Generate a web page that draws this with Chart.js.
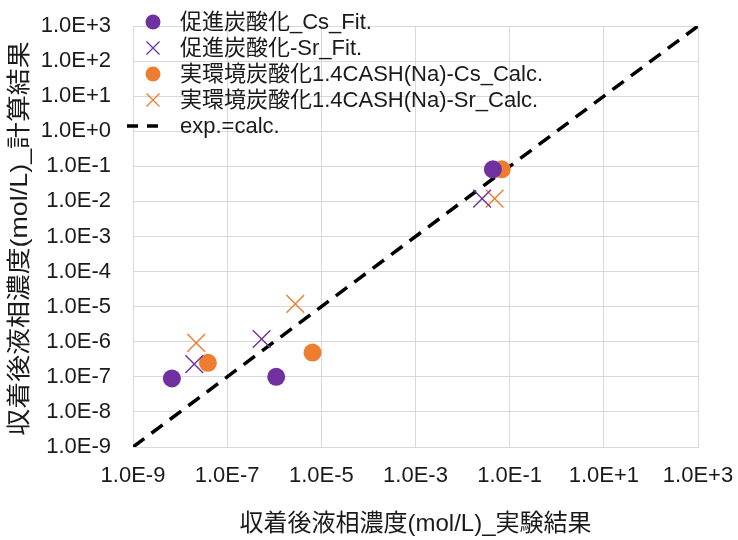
<!DOCTYPE html>
<html>
<head>
<meta charset="utf-8">
<script src="https://cdn.jsdelivr.net/npm/chart.js@4"></script>
<style>
  html, body { margin: 0; padding: 0; background: #fff; }
  canvas { display: block; }
</style>
</head>
<body>
<canvas id="chartCanvas" width="738" height="540"></canvas>
<script>
// Adsorption results: liquid-phase concentration after sorption, experiment (x) vs calculation (y)
const seriesLabels = [
  "促進炭酸化_Cs_Fit.",
  "促進炭酸化-Sr_Fit.",
  "実環境炭酸化1.4CASH(Na)-Cs_Calc.",
  "実環境炭酸化1.4CASH(Na)-Sr_Calc.",
  "exp.=calc."
];

const csFitX = [6.7e-9, 1.1e-6, 0.044];
const csFitY = [9.0e-8, 1.0e-7, 0.082];
const srFitX = [2.0e-8, 5.4e-7, 0.026];
const srFitY = [2.3e-7, 1.2e-6, 0.012];
const csCalcX = [3.9e-8, 6.5e-6, 0.068];
const csCalcY = [2.5e-7, 4.9e-7, 0.082];
const srCalcX = [2.2e-8, 2.8e-6, 0.048];
const srCalcY = [9.3e-7, 1.2e-5, 0.012];
const lineX = [1e-9, 1e3];
const lineY = [1e-9, 1e3];

const xTicks = [1e-9, 1e-7, 1e-5, 1e-3, 1e-1, 1e1, 1e3];
const yTicks = [1e-9, 1e-8, 1e-7, 1e-6, 1e-5, 1e-4, 1e-3, 1e-2, 1e-1, 1e0, 1e1, 1e2, 1e3];

const xTitle = "収着後液相濃度(mol/L)_実験結果";
const yTitle = "収着後液相濃度(mol/L)_計算結果";

const PURPLE = "#7030A0";
const ORANGE = "#ED7D31";
const FONT = '"Liberation Sans", "Noto Sans CJK JP", sans-serif';
const GRID = "#d9d9d9";
const TEXT = "#1a1a1a";

function pts(xs, ys) {
  return xs.map((x, i) => ({ x: x, y: ys[i] }));
}

// "1.0E-7" style labels
function sci(v) {
  const e = Math.round(Math.log10(v));
  return "1.0E" + (e >= 0 ? "+" : "-") + Math.abs(e);
}

// vertical axis title, a little stretched along its length
const yTitlePlugin = {
  id: "yTitle",
  afterDraw(chart) {
    const ctx = chart.ctx;
    const area = chart.chartArea;
    ctx.save();
    ctx.translate(20, (area.top + area.bottom) / 2 + 2);
    ctx.rotate(-Math.PI / 2);
    ctx.scale(1.12, 1);
    ctx.font = "24px " + FONT;
    ctx.fillStyle = TEXT;
    ctx.textAlign = "center";
    ctx.textBaseline = "middle";
    ctx.fillText(yTitle, 0, 0);
    ctx.restore();
  }
};

// legend drawn inside the plot, over the grid, no box
const innerLegend = {
  id: "innerLegend",
  afterDraw(chart) {
    const ctx = chart.ctx;
    const mx = 153, tx = 180, y0 = 22, step = 26;
    ctx.save();
    ctx.font = "22px " + FONT;
    ctx.textBaseline = "middle";
    chart.data.datasets.forEach((ds, i) => {
      const y = y0 + i * step;
      if (ds.showLine) {
        ctx.strokeStyle = ds.borderColor;
        ctx.lineWidth = 3.5;
        ctx.setLineDash([11, 9]);
        ctx.beginPath();
        ctx.moveTo(127, y);
        ctx.lineTo(160, y);
        ctx.stroke();
        ctx.setLineDash([]);
      } else if (ds.pointStyle === "circle") {
        ctx.fillStyle = ds.backgroundColor;
        ctx.beginPath();
        ctx.arc(mx, y, 7.5, 0, Math.PI * 2);
        ctx.fill();
      } else {
        const r = 6.5;
        ctx.strokeStyle = ds.borderColor;
        ctx.lineWidth = 1.3;
        ctx.beginPath();
        ctx.moveTo(mx - r, y - r); ctx.lineTo(mx + r, y + r);
        ctx.moveTo(mx - r, y + r); ctx.lineTo(mx + r, y - r);
        ctx.stroke();
      }
      ctx.fillStyle = TEXT;
      ctx.fillText(ds.label, tx, y + 1);
    });
    ctx.restore();
  }
};

const ctx = document.getElementById("chartCanvas").getContext("2d");
new Chart(ctx, {
  type: "scatter",
  data: {
    datasets: [
      {
        label: seriesLabels[0], data: pts(csFitX, csFitY),
        pointStyle: "circle", pointRadius: 9, pointHoverRadius: 9,
        backgroundColor: PURPLE, borderColor: PURPLE, borderWidth: 0
      },
      {
        label: seriesLabels[1], data: pts(srFitX, srFitY),
        pointStyle: "crossRot", pointRadius: 12.5, pointHoverRadius: 12.5,
        backgroundColor: PURPLE, borderColor: PURPLE, borderWidth: 1.4
      },
      {
        label: seriesLabels[2], data: pts(csCalcX, csCalcY),
        pointStyle: "circle", pointRadius: 9, pointHoverRadius: 9,
        backgroundColor: ORANGE, borderColor: ORANGE, borderWidth: 0
      },
      {
        label: seriesLabels[3], data: pts(srCalcX, srCalcY),
        pointStyle: "crossRot", pointRadius: 12.5, pointHoverRadius: 12.5,
        backgroundColor: ORANGE, borderColor: ORANGE, borderWidth: 1.4
      },
      {
        label: seriesLabels[4], data: pts(lineX, lineY),
        showLine: true, pointRadius: 0, pointHoverRadius: 0,
        borderColor: "#000", backgroundColor: "#000",
        borderWidth: 3.5, borderDash: [14, 9]
      }
    ]
  },
  options: {
    responsive: false,
    animation: false,
    layout: { padding: { top: 26, right: 40, left: 0, bottom: 0 } },
    plugins: {
      legend: { display: false },
      tooltip: { enabled: false }
    },
    scales: {
      x: {
        type: "logarithmic",
        min: 1e-9, max: 1e3,
        afterBuildTicks: (s) => { s.ticks = xTicks.map(v => ({ value: v })); },
        afterFit: (s) => {
          s.height = 93;
          s.paddingLeft = 0;
          s.paddingRight = 0;
        },
        grid: { color: GRID, lineWidth: 1, drawTicks: false },
        border: { color: GRID },
        ticks: {
          autoSkip: false, maxRotation: 0, padding: 16,
          color: TEXT, font: { family: FONT, size: 22 },
          callback: (v) => sci(v)
        },
        title: {
          display: true, text: xTitle, color: TEXT,
          font: { family: FONT, size: 24 }, padding: { top: 0, bottom: 1 }
        }
      },
      y: {
        type: "logarithmic",
        min: 1e-9, max: 1e3,
        afterBuildTicks: (s) => { s.ticks = yTicks.map(v => ({ value: v })); },
        afterFit: (s) => {
          s.width = 133;
          s.paddingTop = 0;
          s.paddingBottom = 0;
        },
        grid: { color: GRID, lineWidth: 1, drawTicks: false },
        border: { color: GRID },
        ticks: {
          autoSkip: false, padding: 22,
          color: TEXT, font: { family: FONT, size: 22 },
          callback: (v) => sci(v)
        },
        title: { display: false }
      }
    }
  },
  plugins: [yTitlePlugin, innerLegend]
});
</script>
</body>
</html>
